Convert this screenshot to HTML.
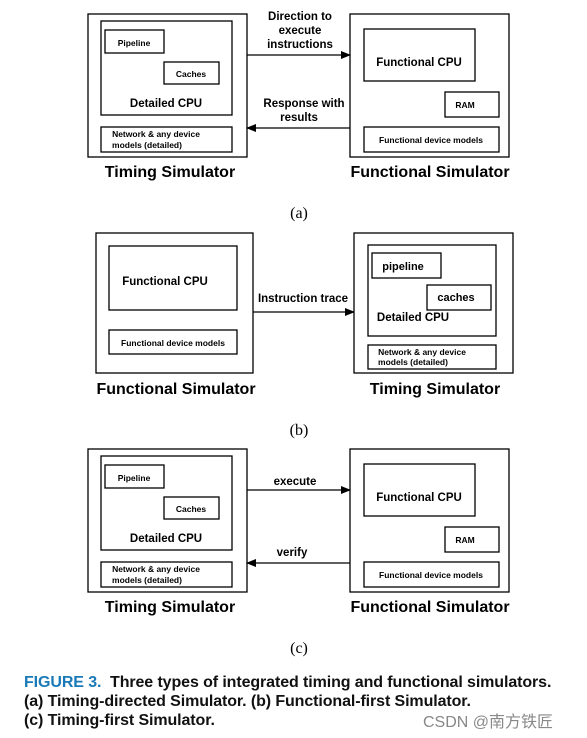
<!DOCTYPE html>
<html><head><meta charset="utf-8"><style>
body{margin:0;background:#fff;width:587px;height:738px;overflow:hidden;position:relative}
svg{position:absolute;left:0;top:0}
.cap{position:absolute;left:24px;top:673px;font-family:"Liberation Sans",sans-serif;font-weight:bold;font-size:16px;line-height:19px;color:#111;letter-spacing:-0.1px}
.cap b{color:#1a7ab8}
.wm{position:absolute;left:423px;top:708px;font-family:"Liberation Sans","Noto Sans CJK SC",sans-serif;font-size:16px;color:#888}
</style></head><body>
<svg width="587" height="738" viewBox="0 0 587 738" font-family="Liberation Sans, sans-serif" fill="none" stroke="#000">
<defs><marker id="ar" markerWidth="10" markerHeight="8" refX="9" refY="4" orient="auto" markerUnits="userSpaceOnUse"><path d="M0,0L10,4L0,8z" fill="#000" stroke="none"/></marker></defs>
<g id="a" stroke-width="1.3">
<rect x="88" y="14" width="159" height="143"/>
<rect x="101" y="21" width="131" height="94"/>
<rect x="105" y="30" width="59" height="23"/>
<rect x="164" y="62" width="55" height="22"/>
<rect x="101" y="127" width="131" height="25"/>
<rect x="350" y="14" width="159" height="143"/>
<rect x="364" y="29" width="111" height="52"/>
<rect x="445" y="92" width="54" height="25"/>
<rect x="364" y="127" width="135" height="25"/>
<line x1="247" y1="55" x2="350" y2="55" marker-end="url(#ar)"/>
<line x1="350" y1="128" x2="247" y2="128" marker-end="url(#ar)"/>
<g fill="#000" stroke="none" font-weight="bold" text-anchor="middle">
<text x="134" y="46" font-size="8.5">Pipeline</text>
<text x="191" y="77" font-size="8.5">Caches</text>
<text x="166" y="107" font-size="11.5">Detailed  CPU</text>
<text x="156" y="137" font-size="8.5">Network &amp; any device</text>
<text x="147" y="148" font-size="8.5">models (detailed)</text>
<text x="419" y="66" font-size="11.5">Functional CPU</text>
<text x="465" y="108" font-size="8.5">RAM</text>
<text x="431" y="143" font-size="8.5">Functional device models</text>
<text x="170" y="177" font-size="16">Timing Simulator</text>
<text x="430" y="177" font-size="16">Functional Simulator</text>
</g></g>
<g fill="#000" stroke="none" font-weight="bold" text-anchor="middle" font-size="11.5">
<text x="300" y="20">Direction to</text>
<text x="300" y="34">execute</text>
<text x="300" y="48">instructions</text>
<text x="304" y="107">Response with</text>
<text x="299" y="121">results</text>
<text x="295" y="485">execute</text>
<text x="292" y="556">verify</text>
<text x="303" y="302">Instruction trace</text>
</g>
<g font-family="Liberation Serif, serif" font-size="16" fill="#000" stroke="none" text-anchor="middle">
<text x="299" y="218">(a)</text><text x="299" y="435">(b)</text><text x="299" y="653">(c)</text>
</g>
<g stroke-width="1.3">
<rect x="96" y="233" width="157" height="140"/>
<rect x="109" y="246" width="128" height="64"/>
<rect x="109" y="330" width="128" height="24"/>
<rect x="354" y="233" width="159" height="140"/>
<rect x="368" y="245" width="128" height="91"/>
<rect x="372" y="253" width="69" height="25"/>
<rect x="427" y="285" width="64" height="25"/>
<rect x="368" y="345" width="128" height="24"/>
<line x1="253" y1="312" x2="354" y2="312" marker-end="url(#ar)"/>
<g fill="#000" stroke="none" font-weight="bold" text-anchor="middle">
<text x="165" y="285" font-size="11.5">Functional CPU</text>
<text x="173" y="346" font-size="8.5">Functional device models</text>
<text x="403" y="270" font-size="11">pipeline</text>
<text x="456" y="301" font-size="11">caches</text>
<text x="413" y="321" font-size="11.5">Detailed  CPU</text>
<text x="422" y="355" font-size="8.5">Network &amp; any device</text>
<text x="413" y="365" font-size="8.5">models (detailed)</text>
<text x="176" y="394" font-size="16">Functional Simulator</text>
<text x="435" y="394" font-size="16">Timing Simulator</text>
</g></g>
<g transform="translate(0,435)" stroke-width="1.3">
<rect x="88" y="14" width="159" height="143"/>
<rect x="101" y="21" width="131" height="94"/>
<rect x="105" y="30" width="59" height="23"/>
<rect x="164" y="62" width="55" height="22"/>
<rect x="101" y="127" width="131" height="25"/>
<rect x="350" y="14" width="159" height="143"/>
<rect x="364" y="29" width="111" height="52"/>
<rect x="445" y="92" width="54" height="25"/>
<rect x="364" y="127" width="135" height="25"/>
<line x1="247" y1="55" x2="350" y2="55" marker-end="url(#ar)"/>
<line x1="350" y1="128" x2="247" y2="128" marker-end="url(#ar)"/>
<g fill="#000" stroke="none" font-weight="bold" text-anchor="middle">
<text x="134" y="46" font-size="8.5">Pipeline</text>
<text x="191" y="77" font-size="8.5">Caches</text>
<text x="166" y="107" font-size="11.5">Detailed  CPU</text>
<text x="156" y="137" font-size="8.5">Network &amp; any device</text>
<text x="147" y="148" font-size="8.5">models (detailed)</text>
<text x="419" y="66" font-size="11.5">Functional CPU</text>
<text x="465" y="108" font-size="8.5">RAM</text>
<text x="431" y="143" font-size="8.5">Functional device models</text>
<text x="170" y="177" font-size="16">Timing Simulator</text>
<text x="430" y="177" font-size="16">Functional Simulator</text>
</g></g>
</svg>
<div class="cap"><b>FIGURE 3.</b>&nbsp; Three types of integrated timing and functional simulators.<br>(a) Timing-directed Simulator. (b) Functional-first Simulator.<br>(c) Timing-first Simulator.</div>
<div class="wm">CSDN @南方铁匠</div>
</body></html>
